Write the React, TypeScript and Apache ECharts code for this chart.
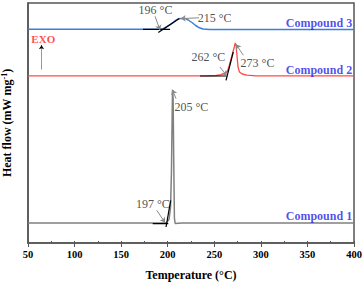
import React, { useEffect, useRef } from "react";
import * as echarts from "echarts";

// Temperature (°C) vs heat flow (arbitrary offset units)
const compound1: [number, number][] = [
  [50, 2.0], [150, 2.0], [195, 2.0], [199, 2.05], [201.5, 2.4], [203, 3.5], [204, 7.0],
  [204.8, 13.0], [205.2, 15.3], [205.8, 14.5], [206.5, 8.0], [207.2, 2.5], [208, 1.95],
  [215, 2.0], [400, 2.0],
];
const compound2: [number, number][] = [
  [50, 16.72], [240, 16.72], [252, 16.75], [256, 16.8], [259, 16.88], [262, 16.98],
  [264, 17.15], [266, 17.7], [268, 18.4], [270, 19.1], [271.5, 19.6], [272.5, 20.0],
  [273.5, 19.7], [274.5, 18.6], [275.5, 17.6], [277, 17.1], [280, 16.9], [285, 16.78],
  [295, 16.72], [400, 16.72],
];
const compound3: [number, number][] = [
  [50, 21.37], [185, 21.37], [192, 21.38], [195, 21.42], [197, 21.5], [200, 21.68],
  [203, 21.86], [206, 22.06], [209, 22.28], [211.5, 22.42], [215, 22.46], [219, 22.44],
  [222, 22.3], [226, 22.05], [230, 21.75], [234, 21.52], [238, 21.4], [245, 21.36],
  [400, 21.36],
];

// Tangent construction segments
const tangents: [number, number][][] = [
  [[173.5, 21.37], [202.5, 21.37]],
  [[189.9, 21.04], [212.4, 22.44]],
  [[234.7, 16.7], [263.3, 16.7]],
  [[262.6, 16.27], [270.4, 19.1]],
  [[183.9, 1.94], [200.6, 1.94]],
  [[198.2, 1.6], [203.2, 4.27]],
];

// Annotation arrows (from label to point)
const arrows: [number, number][][] = [
  [[186.4, 22.67], [191.7, 21.3]],
  [[233.6, 22.52], [213.9, 22.44]],
  [[256.1, 17.6], [263.3, 16.72]],
  [[281.2, 18.77], [273.3, 19.87]],
  [[208.9, 14.44], [204.9, 15.34]],
  [[188.2, 3.27], [197.1, 2.04]],
];

const annotations: { name: string; value: [number, number] }[] = [
  { name: "196 °C", value: [186.9, 23.27] },
  { name: "215 °C", value: [250.4, 22.54] },
  { name: "262 °C", value: [243.6, 18.6] },
  { name: "273 °C", value: [296.4, 18.04] },
  { name: "205 °C", value: [225.5, 13.6] },
  { name: "197 °C", value: [184.1, 3.94] },
];

const compoundLabels: { name: string; value: [number, number] }[] = [
  { name: "Compound 3", value: [398, 22.04] },
  { name: "Compound 2", value: [398, 17.34] },
  { name: "Compound 1", value: [398, 2.67] },
];

const exoLabel: { name: string; value: [number, number] }[] = [{ name: "EXO", value: [66.4, 20.37] }];
const exoArrowShaft: [number, number][] = [[64.5, 17.34], [64.5, 19.55]];
const exoArrowHead: [number, number][] = [[64.5, 19.5], [64.5, 19.77]];

const SERIF = "'Liberation Serif', 'Times New Roman', serif";

export default function App() {
  const ref = useRef<HTMLDivElement>(null);
  useEffect(() => {
    if (!ref.current) return;
    const chart = echarts.init(ref.current, undefined, { renderer: "svg" });
    const tangentSeries = tangents.map((seg) => ({
      type: "line",
      data: seg,
      showSymbol: false,
      symbol: "none",
      lineStyle: { color: "#000", width: 1.2 },
      z: 4,
    }));
    chart.setOption({
      animation: false,
      backgroundColor: "#fff",
      textStyle: { fontFamily: SERIF },
      grid: {
        left: 28,
        right: 10,
        top: 3,
        bottom: 39,
        show: true,
        borderColor: "#555",
        borderWidth: 1.5,
        containLabel: false,
        outerBoundsMode: "none",
      },
      xAxis: [
        {
          type: "value",
          min: 50,
          max: 400,
          interval: 50,
          name: "Temperature (°C)",
          nameLocation: "middle",
          nameGap: 26,
          nameTextStyle: { fontFamily: SERIF, fontWeight: "bold", fontSize: 12, color: "#000" },
          axisLine: { show: true, lineStyle: { color: "#555", width: 1.5 } },
          axisTick: { show: true, inside: false, length: 4, lineStyle: { color: "#555" } },
          axisLabel: { fontFamily: SERIF, fontWeight: "bold", fontSize: 10.5, color: "#000", margin: 6 },
          splitLine: { show: false },
        },
        {
          type: "value",
          min: 50,
          max: 400,
          interval: 25,
          position: "bottom",
          axisLine: { show: false },
          axisTick: { show: true, inside: true, length: 2, lineStyle: { color: "#555" } },
          axisLabel: { show: false },
          splitLine: { show: false },
        },
      ],
      yAxis: {
        type: "value",
        min: 0,
        max: 24,
        name: "{a|Heat flow (mW mg}{s|-1}{a|)}",
        nameLocation: "middle",
        nameGap: 14,
        nameTextStyle: {
          rich: {
            a: { fontFamily: SERIF, fontWeight: "bold", fontSize: 12, color: "#000", lineHeight: 14 },
            s: { fontFamily: SERIF, fontWeight: "bold", fontSize: 8, color: "#000", lineHeight: 14, verticalAlign: "top" },
          },
        },
        axisLine: { show: true, lineStyle: { color: "#555", width: 1.5 } },
        axisTick: { show: false },
        axisLabel: { show: false },
        splitLine: { show: false },
      },
      series: [
        {
          type: "line",
          data: compound1,
          showSymbol: false,
          symbol: "none",
          lineStyle: { color: "#808080", width: 1.5 },
          z: 3,
        },
        {
          type: "line",
          data: compound2,
          showSymbol: false,
          symbol: "none",
          lineStyle: { color: "#ff4a4a", width: 1.3 },
          z: 3,
        },
        {
          type: "line",
          data: compound3,
          showSymbol: false,
          symbol: "none",
          lineStyle: { color: "#3a7fd9", width: 1.5 },
          z: 3,
        },
        ...tangentSeries,
        {
          type: "lines",
          coordinateSystem: "cartesian2d",
          data: arrows.map((c) => ({ coords: c })),
          symbol: ["none", "arrow"],
          symbolSize: 5,
          lineStyle: { color: "#8a8a8a", width: 1, opacity: 1 },
          z: 5,
        },
        {
          type: "lines",
          coordinateSystem: "cartesian2d",
          data: [{ coords: exoArrowShaft }],
          symbol: ["none", "none"],
          lineStyle: { color: "#9a9a9a", width: 1, opacity: 1 },
          z: 5,
        },
        {
          type: "lines",
          coordinateSystem: "cartesian2d",
          data: [{ coords: exoArrowHead }],
          symbol: ["none", "arrow"],
          symbolSize: 4,
          lineStyle: { color: "#000", width: 1, opacity: 1 },
          z: 5,
        },
        {
          type: "scatter",
          data: annotations,
          symbolSize: 0,
          label: {
            show: true,
            position: "inside",
            formatter: "{b}",
            fontFamily: SERIF,
            fontSize: 12,
            color: "#222",
          },
          z: 6,
        },
        {
          type: "scatter",
          data: compoundLabels,
          symbolSize: 0,
          label: {
            show: true,
            position: "inside",
            align: "right",
            formatter: "{b}",
            fontFamily: SERIF,
            fontWeight: "bold",
            fontSize: 12,
            color: "#1f1fe8",
          },
          z: 6,
        },
        {
          type: "scatter",
          data: exoLabel,
          symbolSize: 0,
          label: {
            show: true,
            position: "inside",
            formatter: "{b}",
            fontFamily: SERIF,
            fontWeight: "bold",
            fontSize: 11,
            color: "#ff1a1a",
          },
          z: 6,
        },
      ],
    });
    return () => chart.dispose();
  }, []);
  return (
    <div
      ref={ref}
      style={{ position: "fixed", left: 0, top: 0, width: 364, height: 282, background: "#fff" }}
    />
  );
}
